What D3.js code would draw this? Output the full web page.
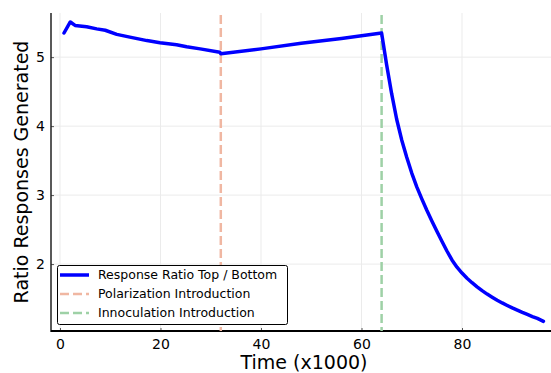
<!DOCTYPE html>
<html>
<head>
<meta charset="utf-8">
<script src="https://cdn.jsdelivr.net/npm/d3@7"></script>
<style>
  body { margin: 0; background: #fff; }
  svg { display: block; font-family: "DejaVu Sans", sans-serif; }
</style>
</head>
<body>
<svg id="chart" width="551" height="373"></svg>
<script>
// values
const timeX = [0.8, 2.05, 3, 5.3, 7.3, 9, 11.3, 13.9, 17.3, 19.9, 23.2, 25.2, 27.9, 31.8, 32,
  40, 48, 56, 64, 65, 66, 67, 68, 69, 70, 71, 72, 73, 74, 75, 76, 77, 78, 79, 80,
  81, 82, 83, 84, 85, 86, 87, 88, 89, 90, 91, 92, 93, 94, 95, 96.2];
const ratioY = [5.35, 5.51, 5.46, 5.44, 5.41, 5.39, 5.33, 5.29, 5.24, 5.21, 5.18, 5.15, 5.12, 5.07, 5.05,
  5.12, 5.2, 5.27, 5.35, 4.89, 4.47, 4.1, 3.8, 3.55, 3.32, 3.12, 2.945, 2.78, 2.625, 2.475, 2.33, 2.19, 2.06, 1.955, 1.87,
  1.795, 1.73, 1.67, 1.615, 1.565, 1.52, 1.477, 1.437, 1.4, 1.365, 1.332, 1.3, 1.27, 1.24, 1.212, 1.17];
const xTicks = [0, 20, 40, 60, 80];
const yTicks = [2, 3, 4, 5];
const vlines = [
  {label: "Polarization Introduction", x: 32, color: "#f0b7a2"},
  {label: "Innoculation Introduction", x: 64, color: "#9ed1a6"}
];
const seriesLabel = "Response Ratio Top / Bottom";

const svg = d3.select("#chart");
const plotL = 51, plotR = 551, plotT = 13, plotB = 331;

const x = d3.scaleLinear().domain([-1.79, 97.71]).range([plotL, plotR]);
const y = d3.scaleLinear().domain([1.03, 5.64]).range([plotB, plotT]);

// grid
svg.append("g").selectAll("line").data(xTicks).join("line")
  .attr("x1", d => x(d)).attr("x2", d => x(d))
  .attr("y1", plotT).attr("y2", plotB)
  .attr("stroke", "#ebebeb").attr("stroke-width", 1);
svg.append("g").selectAll("line").data(yTicks).join("line")
  .attr("x1", plotL).attr("x2", plotR)
  .attr("y1", d => y(d)).attr("y2", d => y(d))
  .attr("stroke", "#ebebeb").attr("stroke-width", 1);

// axes
const xAxis = svg.append("g").attr("transform", `translate(0,${plotB})`)
  .call(d3.axisBottom(x).tickValues(xTicks).tickFormat(d3.format("d")).tickSize(-3).tickPadding(6));
const yAxis = svg.append("g").attr("transform", `translate(${plotL},0)`)
  .call(d3.axisLeft(y).tickValues(yTicks).tickFormat(d3.format("d")).tickSize(-3).tickPadding(6));
[xAxis, yAxis].forEach(a => {
  a.select(".domain").remove();
  a.selectAll(".tick line").attr("stroke", "#555");
  a.selectAll("text").attr("font-size", 14).attr("fill", "#000")
    .attr("font-family", "DejaVu Sans");
});
xAxis.selectAll("text").attr("dy", "0.85em");

// spines
svg.append("line").attr("x1", plotL).attr("x2", plotL).attr("y1", plotT).attr("y2", plotB + 1)
  .attr("stroke", "#222").attr("stroke-width", 1.5);
svg.append("line").attr("x1", plotL).attr("x2", plotR).attr("y1", plotB).attr("y2", plotB)
  .attr("stroke", "#000").attr("stroke-width", 2);

// vertical markers
svg.append("g").selectAll("line").data(vlines).join("line")
  .attr("x1", d => x(d.x)).attr("x2", d => x(d.x))
  .attr("y1", plotT + 2).attr("y2", plotB)
  .attr("stroke", d => d.color).attr("stroke-width", 2.5)
  .attr("stroke-dasharray", "9,4");

// series
const line = d3.line().x((d, i) => x(timeX[i])).y(d => y(d));
svg.append("path").datum(ratioY)
  .attr("d", line)
  .attr("fill", "none").attr("stroke", "#0000ff")
  .attr("stroke-width", 3.5).attr("stroke-linejoin", "round").attr("stroke-linecap", "round");

// axis labels
svg.append("text").attr("x", (plotL + plotR) / 2 + 3).attr("y", 369)
  .attr("text-anchor", "middle").attr("font-size", 19).text("Time (x1000)");
svg.append("text").attr("transform", `translate(28,${(plotT + plotB) / 2}) rotate(-90)`)
  .attr("text-anchor", "middle").attr("font-size", 19).text("Ratio Responses Generated");

// legend
const legend = svg.append("g");
legend.append("rect").attr("x", 57.5).attr("y", 265.5).attr("width", 230).attr("height", 59)
  .attr("rx", 2).attr("fill", "#fff").attr("stroke", "#000").attr("stroke-width", 1);
const items = [{label: seriesLabel, color: "#0000ff", dash: null, w: 3.5}]
  .concat(vlines.map(v => ({label: v.label, color: v.color, dash: "9,4", w: 2.5})));
const rows = legend.selectAll("g.item").data(items).join("g")
  .attr("transform", (d, i) => `translate(0,${275 + i * 19})`);
rows.append("line").attr("x1", 60).attr("x2", 89).attr("y1", 0).attr("y2", 0)
  .attr("stroke", d => d.color).attr("stroke-width", d => d.w)
  .attr("stroke-dasharray", d => d.dash);
rows.append("text").attr("x", 98).attr("y", 0).attr("dy", "0.35em")
  .attr("font-size", 12.5).text(d => d.label);
</script>
</body>
</html>
